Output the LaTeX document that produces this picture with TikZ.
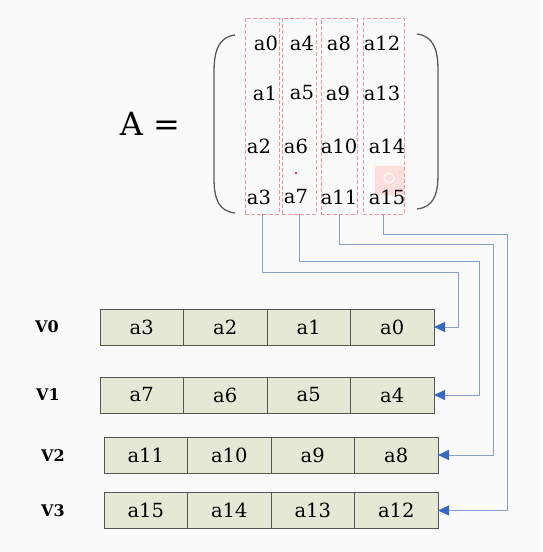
\documentclass[tikz,border=0pt]{standalone}
\usepackage{fontspec}
\setmainfont{DejaVu Serif}
\usepackage{tikz}
\usetikzlibrary{arrows.meta,positioning,calc}
\definecolor{cellfill}{RGB}{230,232,214}
\definecolor{cellline}{RGB}{85,85,85}
\definecolor{colred}{RGB}{240,150,150}
\definecolor{wireblue}{RGB}{135,160,205}
\definecolor{tipblue}{RGB}{55,105,190}
\definecolor{bggray}{RGB}{250,250,250}
\definecolor{bracegray}{RGB}{90,90,90}

\begin{document}
\begin{tikzpicture}[x=1pt,y=-1pt,>=Stealth]
\tikzstyle{elem}=[inner sep=0pt,font=\fontsize{19.5}{19.5}\selectfont]
\tikzstyle{colbox}=[draw=colred,dash pattern=on 4pt off 2pt,line width=0.9pt,minimum width=34pt,minimum height=196pt,inner sep=0pt]
\tikzstyle{cell}=[draw=cellline,fill=cellfill,line width=1pt,outer sep=0pt,minimum width=83.5pt,minimum height=36pt,inner sep=0pt,font=\fontsize{19.5}{19.5}\selectfont]
\tikzstyle{vlab}=[font=\bfseries\fontsize{16}{16}\selectfont]
\tikzstyle{wire}=[draw=wireblue,line width=1pt,-{Triangle[length=11pt,width=10pt,color=tipblue]}]
\tikzstyle{brace}=[draw=bracegray,line width=1.3pt]
\fill[bggray] (0,0) rectangle (542,552);
\useasboundingbox (0,0) rectangle (542,552);
% matrix A
\node[font=\fontsize{32}{32}\selectfont] (lhs) at (150,124) {A =};
\draw[brace] (235,35) .. controls (219,37) and (214,50) .. (214,72) -- (214,178) .. controls (214,200) and (219,211) .. (235,213);
\draw[brace] (417,34) .. controls (433,36) and (438,49) .. (438,70) -- (438,174) .. controls (438,196) and (433,207) .. (417,209);
\fill[red!13,rounded corners=2pt] (375,166) rectangle (404,195);
\draw[white,line width=1.2pt] (389,178) circle (5);
\fill[red!70!black] (296,173) circle (1.2);
\node[colbox] (col0) at (262,116) {};
\node[colbox] (col1) at (299,116) {};
\node[colbox,minimum width=36pt] (col2) at (339,116) {};
\node[colbox,minimum width=41pt] (col3) at (383.5,116) {};
\node[elem] (m0) at (266,43) {a0};
\node[elem] (m1) at (265,93) {a1};
\node[elem] (m2) at (259,146) {a2};
\node[elem] (m3) at (259,197) {a3};
\node[elem] (m4) at (302,43) {a4};
\node[elem] (m5) at (302,93) {a5};
\node[elem] (m6) at (296,146) {a6};
\node[elem] (m7) at (296,197) {a7};
\node[elem] (m8) at (339,43) {a8};
\node[elem] (m9) at (338,93) {a9};
\node[elem] (m10) at (339,146) {a10};
\node[elem] (m11) at (339,197) {a11};
\node[elem] (m12) at (382,43) {a12};
\node[elem] (m13) at (382,93) {a13};
\node[elem] (m14) at (387,146) {a14};
\node[elem] (m15) at (387,197) {a15};
% vector registers
\node[vlab] (lv0) at (47,327) {V0};
\node[vlab] (lv1) at (48,395) {V1};
\node[vlab] (lv2) at (53,456) {V2};
\node[vlab] (lv3) at (53,511) {V3};
\node[cell] (v0c3) at (141.75,327) {a3};
\node[cell,right=0pt of v0c3] (v0c2) {a2};
\node[cell,right=0pt of v0c2] (v0c1) {a1};
\node[cell,right=0pt of v0c1] (v0c0) {a0};
\node[cell] (v1c7) at (141.75,395) {a7};
\node[cell,right=0pt of v1c7] (v1c6) {a6};
\node[cell,right=0pt of v1c6] (v1c5) {a5};
\node[cell,right=0pt of v1c5] (v1c4) {a4};
\node[cell] (v2c11) at (145.75,455) {a11};
\node[cell,right=0pt of v2c11] (v2c10) {a10};
\node[cell,right=0pt of v2c10] (v2c9) {a9};
\node[cell,right=0pt of v2c9] (v2c8) {a8};
\node[cell] (v3c15) at (145.75,510.5) {a15};
\node[cell,right=0pt of v3c15] (v3c14) {a14};
\node[cell,right=0pt of v3c14] (v3c13) {a13};
\node[cell,right=0pt of v3c13] (v3c12) {a12};
% column loads
\coordinate (t0) at (458,272);
\coordinate (t1) at (479,261);
\coordinate (t2) at (493,244);
\coordinate (t3) at (507,234);
\draw[wire] (col0.south) |- (t0) |- (v0c0.east);
\draw[wire] (col1.south) |- (t1) |- (v1c4.east);
\draw[wire] (col2.south) |- (t2) |- (v2c8.east);
\draw[wire] (col3.south) |- (t3) |- (v3c12.east);
\end{tikzpicture}
\end{document}
